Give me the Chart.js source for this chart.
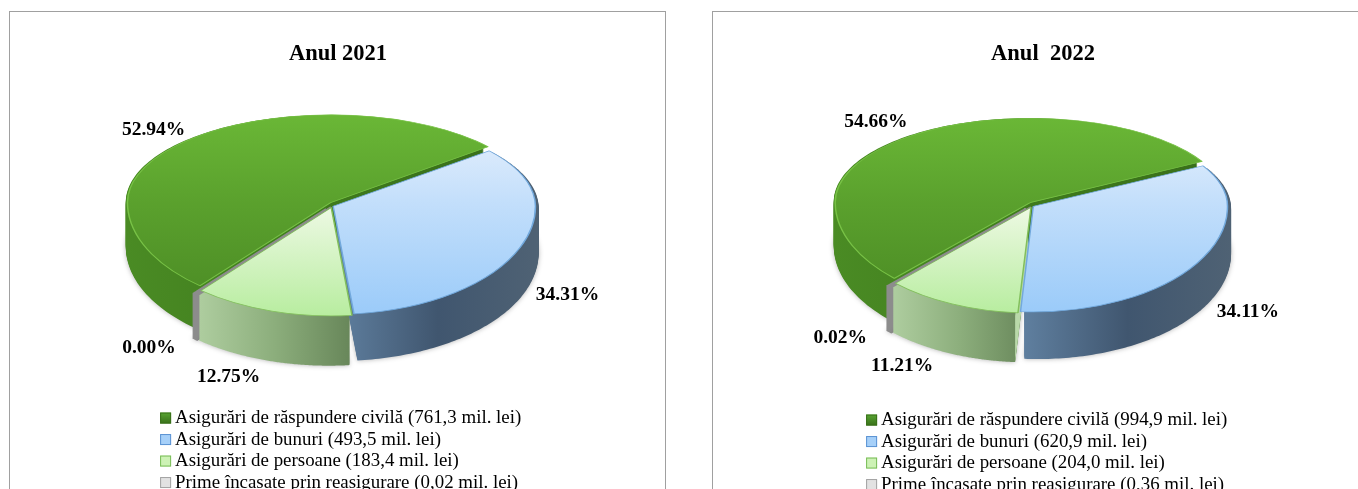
<!DOCTYPE html>
<html>
<head>
<meta charset="utf-8">
<style>
html, body { margin: 0; background: #fff; overflow: hidden; width: 1358px; height: 489px; }
.frame { position: absolute; top: 11px; height: 520px; border: 1px solid #a0a0a0; box-sizing: border-box; }
canvas { position: absolute; top: 0; }
</style>
<script src="https://cdn.jsdelivr.net/npm/chart.js@4/dist/chart.umd.min.js"></script>
</head>
<body>
<div class="frame" style="left:9px;width:657px"></div>
<div class="frame" style="left:712px;width:660px"></div>
<div style="position:absolute;left:53px;top:0;width:570px;height:511px"><canvas id="chart2021"></canvas></div>
<div style="position:absolute;left:758px;top:0;width:570px;height:511px"><canvas id="chart2022"></canvas></div>
<script>
const categories2021 = [
    "Asigurări de răspundere civilă (761,3 mil. lei)",
    "Asigurări de bunuri (493,5 mil. lei)",
    "Asigurări de persoane (183,4 mil. lei)",
    "Prime încasate prin reasigurare (0,02 mil. lei)"
];
const categories2022 = [
    "Asigurări de răspundere civilă (994,9 mil. lei)",
    "Asigurări de bunuri (620,9 mil. lei)",
    "Asigurări de persoane (204,0 mil. lei)",
    "Prime încasate prin reasigurare (0,36 mil. lei)"
];
const values2021 = [761.3, 493.5, 183.4, 0.02];
const values2022 = [994.9, 620.9, 204.0, 0.36];
const percents2021 = ["52.94%", "34.31%", "12.75%", "0.00%"];
const percents2022 = ["54.66%", "34.11%", "11.21%", "0.02%"];

// colours of the slices: top face, rim, side wall, legend box
const topColors = [
    { from: -1, to: 0.8, stops: ["#6ab736", "#4e8f26"], border: "#78c246" },
    { from: -0.7, to: 1, stops: ["#dcebfc", "#9bcbf9"], border: "#72a9dd" },
    { from: 0, to: 1, stops: ["#edf9e3", "#b8eda0"], border: "#82bf5c" },
    { from: 0, to: 1, stops: ["#a0a0a0", "#a0a0a0"], border: "#8c8c8c" }
];
const wallColors = [
    ["#4a8b24", "#3f7b1d", "#39701a"],
    ["#5f7f9f", "#40566f", "#4f6274"],
    ["#aecd9f", "#8cae7c", "#68875a"],
    ["#8c8c8c", "#8c8c8c", "#8c8c8c"]
];
const wallStroke = [0, 0, 0, 5];
const faceColors = [null, null, "#b9d9a9", null];
const sliceLift = [-3, 0, 0, 0];
const legendFill = ["#58a532", "#a6d0f9", "#cdf2b5", "#e2e2e2"];
const legendStroke = ["#39701a", "#5b93d3", "#79bc58", "#a3a3a3"];
const legendFontSize = 18.9;
const legendGap = 2.6;
const serif = "'Liberation Serif', 'Times New Roman', serif";

// pseudo 3D: the pie is squashed more above the apex than below it
const pie3d = {
    id: "pie3d",
    afterLayout(chart) {
        chart.legend.left = chart.options.plugins.pie3d.legendX;
    },
    beforeDatasetDraw(chart, args, opts) {
        const ctx = chart.ctx;
        const els = args.meta.data;
        const dx = opts.centerX - els[0].x;

        const toScreen = (el, px, py) => ({
            x: px + dx,
            y: opts.centerY + (py - el.y) * (py < el.y ? opts.kUp : opts.kDown)
        });

        // side walls, back to front
        [0, 1, 3, 2].forEach(i => {
            const el = els[i];
            const mid = (el.startAngle + el.endAngle) / 2;
            const ox = el.x + Math.cos(mid) * el.options.offset;
            const oy = el.y + Math.sin(mid) * el.options.offset;
            const pts = [toScreen(el, ox, oy)];
            for (let t = 0; t <= 120; t++) {
                const a = el.startAngle + (el.endAngle - el.startAngle) * t / 120;
                pts.push(toScreen(el, ox + el.outerRadius * Math.cos(a), oy + el.outerRadius * Math.sin(a)));
            }
            const xs = pts.map(p => p.x);
            const grad = ctx.createLinearGradient(Math.min(...xs), 0, Math.max(...xs), 0);
            wallColors[i].forEach((c, n) => grad.addColorStop(n / 2, c));
            ctx.save();
            ctx.translate(0, sliceLift[i]);
            ctx.fillStyle = grad;
            ctx.strokeStyle = grad;
            ctx.lineWidth = wallStroke[i];
            for (let d = opts.depth; d >= 1; d--) {
                if (d === opts.depth) {
                    ctx.shadowColor = "rgba(0,0,0,0.3)";
                    ctx.shadowBlur = 5;
                } else {
                    ctx.shadowColor = "transparent";
                }
                ctx.beginPath();
                pts.forEach((p, n) => n ? ctx.lineTo(p.x, p.y + d) : ctx.moveTo(p.x, p.y + d));
                ctx.closePath();
                ctx.fill();
                if (wallStroke[i]) ctx.stroke();
            }
            // cut face that turns towards the viewer
            const apex = pts[0];
            const edge = pts[1];
            if (faceColors[i] && edge.x < apex.x) {
                ctx.fillStyle = faceColors[i];
                ctx.beginPath();
                ctx.moveTo(apex.x, apex.y);
                ctx.lineTo(edge.x, edge.y);
                ctx.lineTo(edge.x, edge.y + opts.depth);
                ctx.lineTo(apex.x, apex.y + opts.depth);
                ctx.closePath();
                ctx.fill();
            }
            ctx.restore();
        });

        // top faces, drawn by the arc elements in two clipped parts
        [[0, opts.centerY, opts.kUp], [opts.centerY, chart.height, opts.kDown]].forEach(([y0, y1, k]) => {
            els.forEach((el, i) => {
                ctx.save();
                ctx.beginPath();
                ctx.rect(0, y0 + sliceLift[i], chart.width, y1 - y0);
                ctx.clip();
                ctx.translate(opts.centerX, opts.centerY + sliceLift[i]);
                ctx.scale(1, k);
                ctx.translate(-el.x, -el.y);
                el.draw(ctx);
                ctx.restore();
            });
        });

        // percentage labels beside the rim
        ctx.save();
        ctx.font = "bold 19.5px " + serif;
        ctx.fillStyle = "#000";
        ctx.textAlign = "center";
        ctx.textBaseline = "middle";
        els.forEach((el, i) => {
            const mid = (el.startAngle + el.endAngle) / 2;
            const rx = el.x + (el.outerRadius + el.options.offset) * Math.cos(mid);
            const ry = el.y + (el.outerRadius + el.options.offset) * Math.sin(mid);
            const p = toScreen(el, rx, ry);
            ctx.fillText(opts.percents[i], p.x + opts.labelShift[i][0], p.y + opts.labelShift[i][1]);
        });
        ctx.restore();
        return false;
    },
    afterDraw(chart) {
        // legend boxes sit closer to their text than the built-in ones can
        const ctx = chart.ctx;
        const legend = chart.legend;
        legend.legendItems.forEach((item, i) => {
            const x = legend.left + legendGap;
            const y = legend.top + legendGap + i * (legendFontSize + legendGap) + (legendFontSize - 11) / 2;
            const grad = ctx.createLinearGradient(0, y, 0, y + 11);
            grad.addColorStop(0, legendFill[i]);
            grad.addColorStop(1, legendStroke[i]);
            ctx.fillStyle = i === 0 ? grad : legendFill[i];
            ctx.strokeStyle = legendStroke[i];
            ctx.lineWidth = 1;
            ctx.fillRect(x, y, 11, 11);
            ctx.strokeRect(x + 0.5, y + 0.5, 10, 10);
        });
    }
};

function topGradient(context) {
    const area = context.chart.chartArea;
    const c = topColors[context.dataIndex];
    if (!area) return c.stops[1];
    const r = context.chart.options.plugins.pie3d.radius;
    const mid = (area.top + area.bottom) / 2;
    const g = context.chart.ctx.createLinearGradient(0, mid + c.from * r, 0, mid + c.to * r);
    g.addColorStop(0, c.stops[0]);
    g.addColorStop(1, c.stops[1]);
    return g;
}

function makeChart(id, title, labels, values, offsets, rotation, pieOpts) {
    return new Chart(document.getElementById(id), {
        type: "pie",
        plugins: [pie3d],
        data: {
            labels: labels,
            datasets: [{
                data: values,
                backgroundColor: topGradient,
                borderColor: topColors.map(c => c.border),
                borderWidth: 1.5,
                offset: offsets
            }]
        },
        options: {
            animation: false,
            responsive: true,
            maintainAspectRatio: false,
            rotation: rotation,
            radius: pieOpts.radius,
            layout: { padding: { bottom: pieOpts.bottomPad } },
            plugins: {
                tooltip: { enabled: false },
                pie3d: pieOpts,
                title: {
                    display: true,
                    text: title,
                    color: "#000",
                    font: { family: serif, size: 22.5, weight: "bold" },
                    padding: { top: 41, bottom: 6 }
                },
                legend: {
                    position: "bottom",
                    align: "start",
                    labels: {
                        color: "#000",
                        font: { family: serif, size: legendFontSize },
                        boxWidth: 5.5,
                        boxHeight: 11,
                        padding: legendGap,
                        generateLabels(chart) {
                            return chart.data.labels.map((text, i) => ({
                                text: text,
                                fillStyle: "rgba(0,0,0,0)",
                                strokeStyle: "rgba(0,0,0,0)",
                                lineWidth: 0,
                                index: i
                            }));
                        }
                    }
                }
            }
        }
    });
}

makeChart("chart2021", "Anul 2021", categories2021, values2021, [6, 5, 11, 8], -140, {
    radius: 202, centerX: 279, centerY: 206, kUp: 0.431, kDown: 0.535, depth: 46,
    legendX: 104.5, bottomPad: 9,
    percents: percents2021,
    labelShift: [[-32, -12], [44, 47], [-41, 62], [-48, 56]]
});
makeChart("chart2022", "Anul  2022", categories2022, values2022, [7, 6, 10, 8], -135.8, {
    radius: 194, centerX: 274, centerY: 206, kUp: 0.43, kDown: 0.543, depth: 46,
    legendX: 105.5, bottomPad: 7,
    percents: percents2022,
    labelShift: [[-34, -15], [47, 48], [-47, 59], [-51, 53]]
});
</script>
</body>
</html>
